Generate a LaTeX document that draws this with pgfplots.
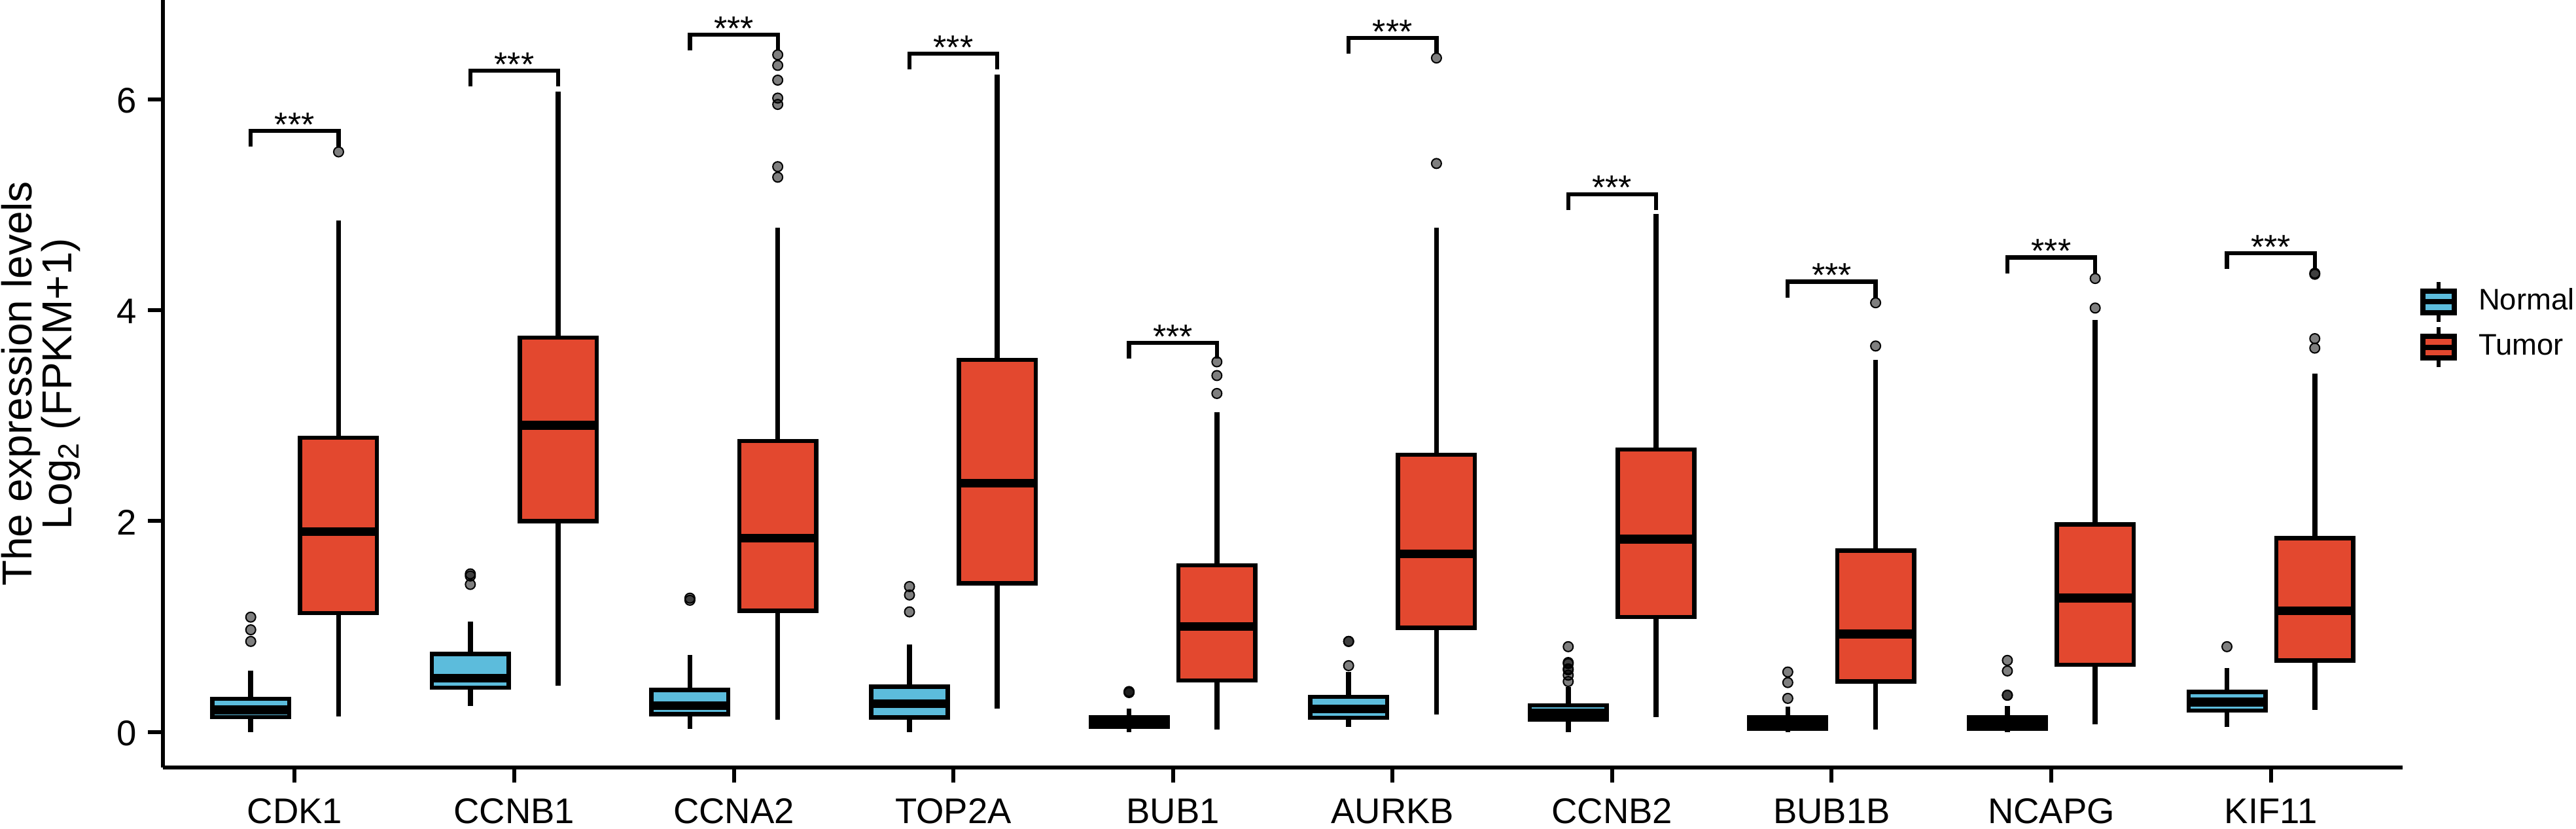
\documentclass[border=0pt]{standalone}
\usepackage{fontspec}
\setmainfont{Liberation Sans}
\usepackage{pgfplots}
\pgfplotsset{compat=1.18}
\usepgfplotslibrary{statistics}
\definecolor{cnormal}{HTML}{5CBCDC}
\definecolor{ctumor}{HTML}{E3482F}
\pgfplotsset{
  bx/.style={forget plot, draw=black, line width=1.5pt, solid,
    boxplot/draw direction=y,
    boxplot/every box/.style={draw=black, fill=#1, line width=1.3pt},
    boxplot/every whisker/.style={draw=black, line width=1.5pt},
    boxplot/every median/.style={draw=black, line width=2.7pt},
    boxplot/box extend=0.35, boxplot/whisker extend=0},
  brk/.style={forget plot, black, line width=1.25pt, no marks, sharp plot},
  boxkey/.style={legend image code/.code={
    \draw[black, line width=1.1pt] (0pt,-6.1pt) -- (0pt,6.1pt);
    \draw[black, line width=1.6pt, fill=#1] (-4.8pt,-3.3pt) rectangle (4.8pt,3.3pt);
    \draw[black, line width=1.6pt] (-4.8pt,0pt) -- (4.8pt,0pt);
  }}
}
\newcommand{\stars}[2]{\node[font=\fontsize{10.4}{10.4}\selectfont, inner sep=0pt] at (axis cs:#1,#2) {***};}
\begin{document}
\begin{tikzpicture}
\useasboundingbox (-49.8pt,-18.8pt) rectangle (737.6pt,234.6pt);
\begin{axis}[
  at={(0pt,0pt)}, anchor=south west,
  scale only axis, width=684.6pt, height=234.6pt,
  xmin=-0.6, xmax=9.6, ymin=-0.335, ymax=6.94,
  axis lines=left, axis line style={-, line width=1.2pt},
  clip=false,
  tick align=outside, tick style={black, line width=1.2pt},
  major tick length=4.6pt,
  xtick={0,1,2,3,4,5,6,7,8,9},
  xticklabels={CDK1,CCNB1,CCNA2,TOP2A,BUB1,AURKB,CCNB2,BUB1B,NCAPG,KIF11},
  ytick={0,2,4,6},
  tick label style={font=\fontsize{10.9}{11}\selectfont},
  /pgf/number format/assume math mode=true,
  xticklabel style={yshift=-1.4pt},
  yticklabel style={yshift=-0.4pt},
  ylabel={The expression levels\\Log\textsubscript{2} (FPKM+1)},
  ylabel style={at={(axis description cs:-0.0545,0.5)}, anchor=center, align=center,
    font=\fontsize{12.8}{12.2}\selectfont},
  legend style={at={(690pt,149pt)}, anchor=north west, draw=none, fill=none,
    font=\fontsize{9.1}{9.1}\selectfont, inner sep=0pt, outer sep=0pt,
    row sep=0.6pt, column sep=4.6pt, cells={anchor=west}},
]
% outliers
\addplot[forget plot, only marks, mark=*, mark size=1.5pt,
  mark options={draw=none, fill=black, fill opacity=0.5}] coordinates {
 (-0.2,1.09)(-0.2,0.97)(-0.2,0.86)(0.2,5.50)
 (0.8,1.50)(0.8,1.48)(0.8,1.40)
 (1.8,1.27)(1.8,1.25)(2.2,6.42)(2.2,6.32)(2.2,6.18)(2.2,6.01)(2.2,5.95)(2.2,5.36)(2.2,5.26)
 (2.8,1.38)(2.8,1.30)(2.8,1.14)
 (3.8,0.385)(3.8,0.38)(3.8,0.375)(4.2,3.51)(4.2,3.38)(4.2,3.21)
 (4.8,0.86)(4.8,0.86)(4.8,0.63)(5.2,6.39)(5.2,5.39)
 (5.8,0.81)(5.8,0.66)(5.8,0.65)(5.8,0.60)(5.8,0.59)(5.8,0.54)(5.8,0.48)
 (6.8,0.57)(6.8,0.47)(6.8,0.32)(7.2,4.07)(7.2,3.66)
 (7.8,0.68)(7.8,0.58)(7.8,0.35)(7.8,0.35)(8.2,4.30)(8.2,4.02)
 (8.8,0.81)(9.2,4.35)(9.2,4.34)(9.2,3.73)(9.2,3.64)
};
% Normal
\addplot[bx=cnormal, boxplot prepared={draw position=-0.2, lower whisker=0.00, lower quartile=0.143, median=0.21, upper quartile=0.315, upper whisker=0.58}] coordinates {};
\addplot[bx=cnormal, boxplot prepared={draw position=0.8, lower whisker=0.25, lower quartile=0.42, median=0.51, upper quartile=0.74, upper whisker=1.05}] coordinates {};
\addplot[bx=cnormal, boxplot prepared={draw position=1.8, lower whisker=0.03, lower quartile=0.17, median=0.25, upper quartile=0.40, upper whisker=0.73}] coordinates {};
\addplot[bx=cnormal, boxplot prepared={draw position=2.8, lower whisker=0.00, lower quartile=0.14, median=0.27, upper quartile=0.43, upper whisker=0.83}] coordinates {};
\addplot[bx=cnormal, boxplot prepared={draw position=3.8, lower whisker=0.00, lower quartile=0.05, median=0.09, upper quartile=0.14, upper whisker=0.22}] coordinates {};
\addplot[bx=cnormal, boxplot prepared={draw position=4.8, lower whisker=0.05, lower quartile=0.135, median=0.22, upper quartile=0.335, upper whisker=0.57}] coordinates {};
\addplot[bx=cnormal, boxplot prepared={draw position=5.8, lower whisker=0.00, lower quartile=0.12, median=0.18, upper quartile=0.255, upper whisker=0.43}] coordinates {};
\addplot[bx=cnormal, boxplot prepared={draw position=6.8, lower whisker=0.00, lower quartile=0.03, median=0.085, upper quartile=0.14, upper whisker=0.24}] coordinates {};
\addplot[bx=cnormal, boxplot prepared={draw position=7.8, lower whisker=0.00, lower quartile=0.03, median=0.085, upper quartile=0.14, upper whisker=0.25}] coordinates {};
\addplot[bx=cnormal, boxplot prepared={draw position=8.8, lower whisker=0.05, lower quartile=0.205, median=0.285, upper quartile=0.38, upper whisker=0.61}] coordinates {};
% Tumor
\addplot[bx=ctumor, boxplot prepared={draw position=0.2, lower whisker=0.15, lower quartile=1.13, median=1.90, upper quartile=2.79, upper whisker=4.85}] coordinates {};
\addplot[bx=ctumor, boxplot prepared={draw position=1.2, lower whisker=0.44, lower quartile=2.00, median=2.91, upper quartile=3.74, upper whisker=6.07}] coordinates {};
\addplot[bx=ctumor, boxplot prepared={draw position=2.2, lower whisker=0.115, lower quartile=1.15, median=1.84, upper quartile=2.76, upper whisker=4.78}] coordinates {};
\addplot[bx=ctumor, boxplot prepared={draw position=3.2, lower whisker=0.225, lower quartile=1.41, median=2.36, upper quartile=3.53, upper whisker=6.23}] coordinates {};
\addplot[bx=ctumor, boxplot prepared={draw position=4.2, lower whisker=0.025, lower quartile=0.49, median=1.00, upper quartile=1.58, upper whisker=3.03}] coordinates {};
\addplot[bx=ctumor, boxplot prepared={draw position=5.2, lower whisker=0.165, lower quartile=0.99, median=1.69, upper quartile=2.63, upper whisker=4.78}] coordinates {};
\addplot[bx=ctumor, boxplot prepared={draw position=6.2, lower whisker=0.14, lower quartile=1.09, median=1.83, upper quartile=2.68, upper whisker=4.91}] coordinates {};
\addplot[bx=ctumor, boxplot prepared={draw position=7.2, lower whisker=0.025, lower quartile=0.48, median=0.93, upper quartile=1.72, upper whisker=3.53}] coordinates {};
\addplot[bx=ctumor, boxplot prepared={draw position=8.2, lower whisker=0.075, lower quartile=0.64, median=1.27, upper quartile=1.97, upper whisker=3.91}] coordinates {};
\addplot[bx=ctumor, boxplot prepared={draw position=9.2, lower whisker=0.21, lower quartile=0.68, median=1.15, upper quartile=1.84, upper whisker=3.40}] coordinates {};
% brackets
\addplot[brk] coordinates {(-0.2,5.55)(-0.2,5.70)(0.2,5.70)(0.2,5.55)};
\addplot[brk] coordinates {(0.8,6.12)(0.8,6.27)(1.2,6.27)(1.2,6.12)};
\addplot[brk] coordinates {(1.8,6.46)(1.8,6.61)(2.2,6.61)(2.2,6.46)};
\addplot[brk] coordinates {(2.8,6.28)(2.8,6.43)(3.2,6.43)(3.2,6.28)};
\addplot[brk] coordinates {(3.8,3.54)(3.8,3.69)(4.2,3.69)(4.2,3.54)};
\addplot[brk] coordinates {(4.8,6.43)(4.8,6.58)(5.2,6.58)(5.2,6.43)};
\addplot[brk] coordinates {(5.8,4.95)(5.8,5.10)(6.2,5.10)(6.2,4.95)};
\addplot[brk] coordinates {(6.8,4.12)(6.8,4.27)(7.2,4.27)(7.2,4.12)};
\addplot[brk] coordinates {(7.8,4.35)(7.8,4.50)(8.2,4.50)(8.2,4.35)};
\addplot[brk] coordinates {(8.8,4.39)(8.8,4.54)(9.2,4.54)(9.2,4.39)};
\stars{0}{5.76}\stars{1}{6.33}\stars{2}{6.67}\stars{3}{6.49}\stars{4}{3.75}
\stars{5}{6.64}\stars{6}{5.16}\stars{7}{4.33}\stars{8}{4.56}\stars{9}{4.60}
% legend
\addlegendimage{boxkey=cnormal}
\addlegendentry{Normal}
\addlegendimage{boxkey=ctumor}
\addlegendentry{Tumor}
\end{axis}
\end{tikzpicture}
\end{document}
